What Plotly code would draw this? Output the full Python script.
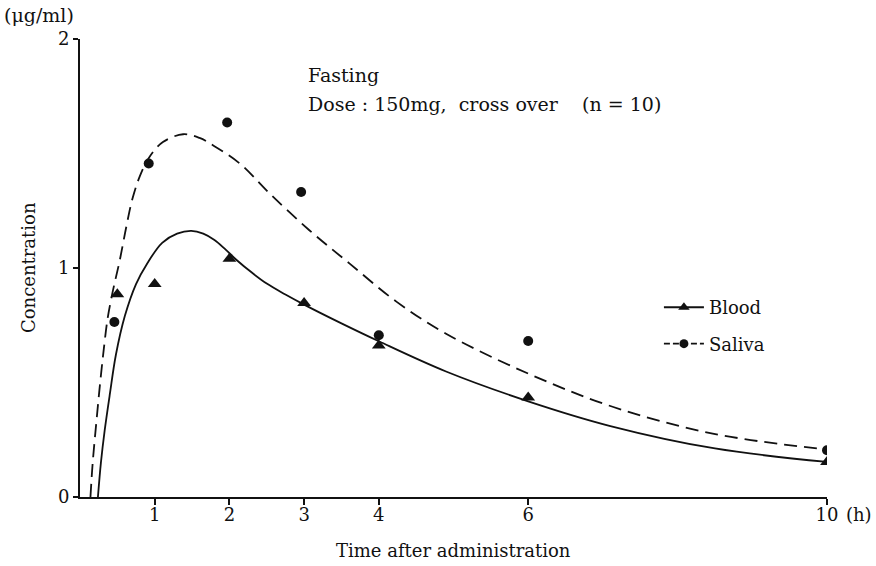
import plotly.graph_objects as go

# Observed points
blood_t = [0.5, 1.0, 2.0, 3.0, 4.0, 6.0, 10.0]
blood_c = [0.885, 0.93, 1.04, 0.847, 0.662, 0.434, 0.153]
saliva_t = [0.46, 0.92, 1.97, 2.96, 4.0, 6.0, 10.0]
saliva_c = [0.764, 1.456, 1.635, 1.332, 0.706, 0.681, 0.204]

# Fitted curves
blood_fit_t = [0.24, 0.28, 0.33, 0.40, 0.48, 0.60, 0.75, 0.90, 1.10, 1.30, 1.49, 1.65, 1.80, 1.95, 2.10, 2.30, 2.50, 2.75, 3.00, 3.50, 4.00, 4.90, 6.00, 7.10, 8.50, 10.0]
blood_fit_c = [0.0, 0.15, 0.29, 0.45, 0.62, 0.79, 0.93, 1.02, 1.11, 1.15, 1.162, 1.150, 1.122, 1.080, 1.034, 0.980, 0.932, 0.884, 0.840, 0.758, 0.680, 0.548, 0.418, 0.310, 0.212, 0.153]
saliva_fit_t = [0.14, 0.17, 0.22, 0.27, 0.32, 0.37, 0.44, 0.53, 0.62, 0.70, 0.80, 0.93, 1.11, 1.38, 1.60, 1.78, 2.14, 2.54, 3.07, 3.61, 4.24, 4.90, 6.00, 7.14, 8.47, 10.0]
saliva_fit_c = [0.0, 0.15, 0.33, 0.50, 0.65, 0.78, 0.90, 1.03, 1.18, 1.30, 1.40, 1.485, 1.55, 1.584, 1.568, 1.536, 1.456, 1.325, 1.165, 1.019, 0.852, 0.713, 0.539, 0.393, 0.277, 0.207]

x_ticks = [1, 2, 3, 4, 6, 10]
y_ticks = [0, 1, 2]

FONT = "DejaVu Serif"
BLACK = "#111111"

fig = go.Figure()
fig.add_trace(go.Scatter(x=blood_fit_t, y=blood_fit_c, mode="lines", line=dict(color=BLACK, width=1.8, shape="spline", smoothing=1.0), showlegend=False, hoverinfo="skip"))
fig.add_trace(go.Scatter(x=saliva_fit_t, y=saliva_fit_c, mode="lines", line=dict(color=BLACK, width=1.8, dash="13px,7px", shape="spline", smoothing=1.0), showlegend=False, hoverinfo="skip"))
fig.add_trace(go.Scatter(x=blood_t, y=blood_c, mode="markers", marker=dict(symbol="triangle-up", size=12, color=BLACK), showlegend=False))
fig.add_trace(go.Scatter(x=saliva_t, y=saliva_c, mode="markers", marker=dict(symbol="circle", size=10, color=BLACK), showlegend=False))
# legend entries
fig.add_trace(go.Scatter(x=[None], y=[None], mode="lines+markers", name="Blood", legendgroup="b", line=dict(color=BLACK, width=1.8), marker=dict(symbol="triangle-up", size=10, color=BLACK)))
fig.add_trace(go.Scatter(x=[None], y=[None], mode="lines+markers", name="Saliva", legendgroup="s", line=dict(color=BLACK, width=1.8, dash="6px,3px"), marker=dict(symbol="circle", size=9, color=BLACK)))

fig.update_layout(
    width=876, height=566,
    margin=dict(l=80, r=49, t=39, b=69),
    paper_bgcolor="white", plot_bgcolor="white",
    font=dict(family=FONT, size=16, color=BLACK),
    legend=dict(x=0.775, y=0.454, xanchor="left", yanchor="top", bgcolor="rgba(0,0,0,0)", font=dict(size=18, family=FONT), tracegroupgap=10, itemwidth=40),
    xaxis=dict(range=[0, 10], tickvals=x_ticks, ticktext=[str(v) for v in x_ticks], showgrid=False, zeroline=False,
               showline=True, linecolor=BLACK, linewidth=2, ticks="outside", ticklen=6, tickwidth=1.5, tickcolor=BLACK,
               ticklabelstandoff=-6, tickfont=dict(size=18, family=FONT)),
    yaxis=dict(range=[0, 2], tickvals=y_ticks, ticktext=[str(v) for v in y_ticks], showgrid=False, zeroline=False,
               showline=True, linecolor=BLACK, linewidth=2, ticks="outside", ticklen=5, tickwidth=1.5, tickcolor=BLACK,
               tickfont=dict(size=18, family=FONT)),
    annotations=[
        dict(text="Concentration", xref="paper", yref="paper", x=0, y=0.5, xshift=-52, xanchor="center", yanchor="middle", textangle=-90, showarrow=False, font=dict(size=18, family=FONT)),
        dict(text="Time after administration", xref="paper", yref="paper", x=0.5, y=0, yshift=-53, xanchor="center", yanchor="middle", showarrow=False, font=dict(size=18, family=FONT)),
        dict(text="(h)", xref="paper", yref="paper", x=1, y=0, xshift=17, yshift=-17, xanchor="left", yanchor="middle", showarrow=False, font=dict(size=18, family=FONT)),
        dict(text="(\u03bcg/ml)", xref="paper", yref="paper", x=0, y=1, xshift=-78, yshift=24, xanchor="left", yanchor="middle", showarrow=False, font=dict(size=19, family=FONT)),
        dict(text="Fasting", xref="paper", yref="paper", x=0.303, y=0.921, xanchor="left", yanchor="middle", showarrow=False, font=dict(size=19, family=FONT)),
        dict(text="Dose : 150mg,  cross over    (n = 10)", xref="paper", yref="paper", x=0.303, y=0.857, xanchor="left", yanchor="middle", showarrow=False, font=dict(size=19, family=FONT)),
    ],
)

fig.write_html("out.html")
